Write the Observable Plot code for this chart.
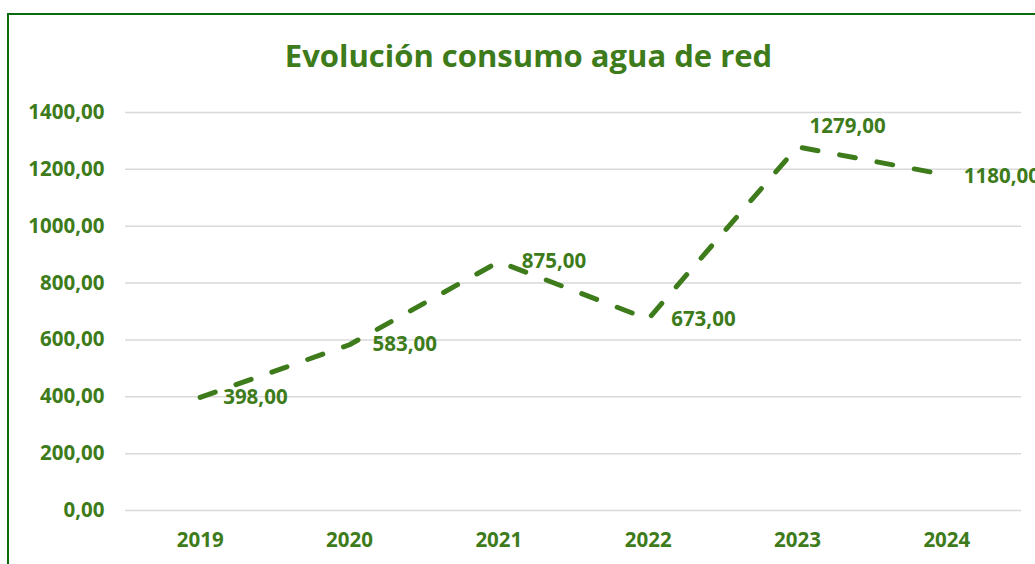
<!DOCTYPE html>
<html><head><meta charset="utf-8">
<script src="https://cdn.jsdelivr.net/npm/d3@7"></script>
<script src="https://cdn.jsdelivr.net/npm/@observablehq/plot@0.6"></script>
<style>
html,body{margin:0;padding:0;background:#fff;}
#wrap{position:relative;width:1035px;height:564px;overflow:hidden;}
#frame{position:absolute;left:7px;top:13px;width:1040px;height:560px;border-left:2px solid #0b6a0b;border-top:2px solid #0b6a0b;pointer-events:none;}
</style></head>
<body>
<div id="wrap"><div id="frame"></div></div>
<script>
const years = [2019, 2020, 2021, 2022, 2023, 2024];
const consumo = [398, 583, 875, 673, 1279, 1180];
const yTicks = [0, 200, 400, 600, 800, 1000, 1200, 1400];
const titleText = "Evolución consumo agua de red";

const data = years.map((y, i) => ({year: y, value: consumo[i]}));
const fmt = v => d3.format(".2f")(v).replace(".", ",");
const green = "#3d7b1b";
const font = "'Open Sans', sans-serif";
const fs = 20.5;

const chart = Plot.plot({
  width: 1035,
  height: 564,
  marginLeft: 125,
  marginRight: 14,
  marginTop: 112,
  marginBottom: 54,
  style: {fontFamily: font, background: "transparent", overflow: "visible"},
  x: {domain: [2018.5, 2024.5], label: null},
  y: {domain: [0, 1400], label: null},
  marks: [
    Plot.ruleY(yTicks, {stroke: "#d9d9d9", strokeWidth: 1.5}),
    Plot.axisX({ticks: years, tickFormat: d => String(d), tickSize: 0, tickPadding: 22, fill: green, fontSize: fs, fontWeight: "bold", label: null}),
    Plot.axisY({ticks: yTicks, tickFormat: fmt, tickSize: 0, tickPadding: 21, fill: green, fontSize: fs, fontWeight: "bold", label: null}),
    Plot.line(data, {x: "year", y: "value", stroke: green, strokeWidth: 5, strokeLinecap: "round", strokeDasharray: "16,22"}),
    Plot.text(data.filter(d => d.year < 2023), {x: "year", y: "value", text: d => fmt(d.value), textAnchor: "start", dx: 23, dy: 0, fill: green, fontSize: fs, fontWeight: "bold"}),
    Plot.text(data.filter(d => d.year === 2023), {x: "year", y: "value", text: d => fmt(d.value), textAnchor: "start", dx: 12, dy: -20, fill: green, fontSize: fs, fontWeight: "bold"}),
    Plot.text(data.filter(d => d.year === 2024), {x: "year", y: "value", text: d => fmt(d.value), textAnchor: "start", dx: 17, dy: 1, fill: green, fontSize: fs, fontWeight: "bold"}),
    Plot.text([titleText], {frameAnchor: "top", dx: -45, dy: -68, fill: green, fontSize: 31, fontWeight: "bold"})
  ]
});
chart.style.position = "absolute";
chart.style.left = "0";
chart.style.top = "0";
document.getElementById("wrap").appendChild(chart);
</script>
</body></html>
